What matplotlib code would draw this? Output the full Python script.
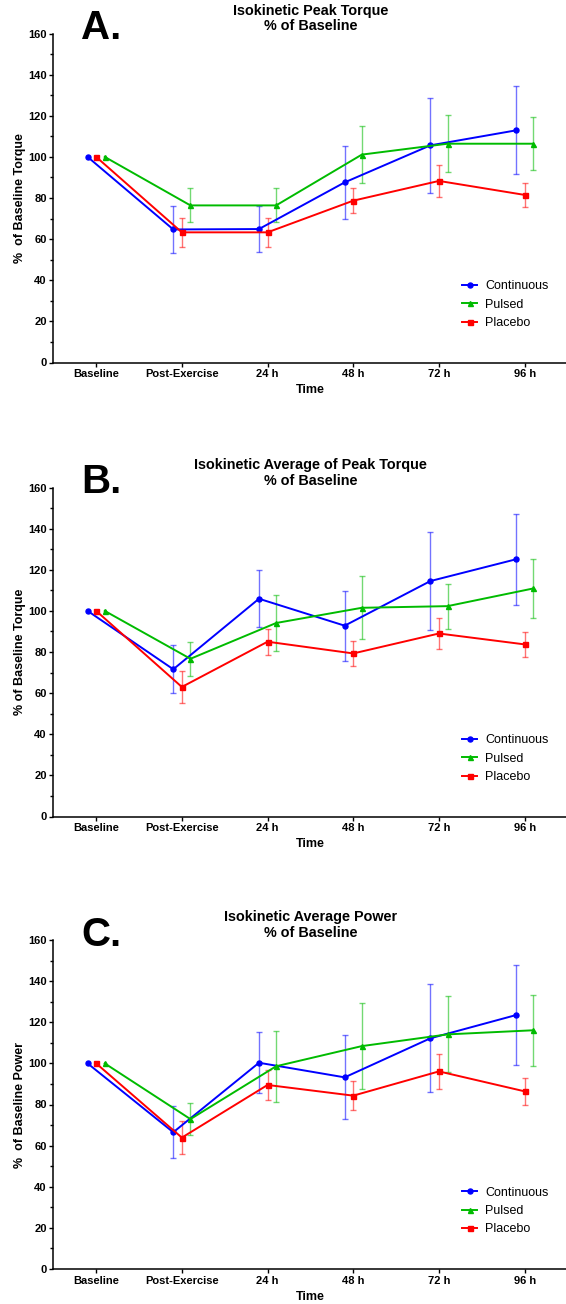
import numpy as np
import matplotlib
matplotlib.use('Agg')
import matplotlib.pyplot as plt
from matplotlib.ticker import MultipleLocator

plt.rcParams['font.family'] = ['Liberation Sans', 'DejaVu Sans']

# === Данные ===
categories = ['Baseline', 'Post-Exercise', '24 h', '48 h', '72 h', '96 h']
groups = ['Continuous', 'Pulsed', 'Placebo']

# A. Isokinetic Peak Torque
cont_a = [100, 64.7, 64.9, 87.6, 105.6, 112.9]
cont_a_err = [0, 11.4, 11.4, 17.7, 23.0, 21.4]
puls_a = [100, 76.4, 76.4, 101.1, 106.4, 106.4]
puls_a_err = [0, 8.3, 8.3, 14.0, 13.8, 12.9]
plac_a = [100, 63.3, 63.3, 78.7, 88.3, 81.5]
plac_a_err = [0, 7.2, 7.2, 6.2, 7.8, 5.7]

# B. Isokinetic Average of Peak Torque
cont_b = [100, 71.6, 105.9, 92.8, 114.5, 125.1]
cont_b_err = [0, 11.6, 13.8, 17.0, 23.8, 22.1]
puls_b = [100, 76.7, 94.1, 101.5, 102.3, 110.9]
puls_b_err = [0, 8.4, 13.6, 15.3, 11.0, 14.4]
plac_b = [100, 63.0, 85.0, 79.3, 89.0, 83.7]
plac_b_err = [0, 7.6, 6.3, 6.2, 7.5, 5.9]

# C. Isokinetic Average Power
cont_c = [100, 66.5, 100.3, 93.2, 112.2, 123.5]
cont_c_err = [0, 12.7, 14.8, 20.4, 26.3, 24.1]
puls_c = [100, 72.9, 98.6, 108.4, 114.1, 116.1]
puls_c_err = [0, 7.9, 17.3, 21.0, 18.5, 17.2]
plac_c = [100, 63.9, 89.5, 84.3, 96.1, 86.4]
plac_c_err = [0, 8.1, 7.1, 6.9, 8.4, 6.5]

# буква, заголовок, подпись оси Y, ряды, верх осей (px), отступ заголовка
panels = [
    ('A.', 'Isokinetic Peak Torque\n% of Baseline', '%  of Baseline Torque',
     [(cont_a, cont_a_err), (puls_a, puls_a_err), (plac_a, plac_a_err)], 33.5, 0.0),
    ('B.', 'Isokinetic Average of Peak Torque\n% of Baseline', '% of Baseline Torque',
     [(cont_b, cont_b_err), (puls_b, puls_b_err), (plac_b, plac_b_err)], 487.5, 1.8),
    ('C.', 'Isokinetic Average Power\n% of Baseline', '%  of Baseline Power',
     [(cont_c, cont_c_err), (puls_c, puls_c_err), (plac_c, plac_c_err)], 940.0, 0.3),
]

colors = ['#0000FF', '#00BB00', '#FF0000']
markers = ['o', '^', 's']
offsets = [-0.1, 0.1, 0.0]

W, H = 566, 1304
fig = plt.figure(figsize=(W / 100, H / 100), dpi=100)

ax_left, ax_w, ax_h = 53.3, 514.2, 329.0
x = np.arange(len(categories))

for letter, title, ylabel, series, top, tpad in panels:
    ax = fig.add_axes([ax_left / W, (H - top - ax_h) / H, ax_w / W, ax_h / H])

    for (vals, errs), name, c, m, off in zip(series, groups, colors, markers, offsets):
        xs = x + off
        ax.errorbar(xs[1:], vals[1:], yerr=errs[1:], fmt='none', ecolor=c,
                    alpha=0.55, elinewidth=1.0, capsize=2.2, capthick=1.0, zorder=2)
        ax.plot(xs, vals, color=c, marker=m, markersize=3.6, linewidth=1.4,
                label=name, zorder=3)

    ax.set_xlim(-0.5, 5.5)
    ax.set_ylim(0, 160)
    ax.set_xticks(x)
    ax.set_xticklabels(categories, fontsize=8, fontweight='bold')
    ax.yaxis.set_major_locator(MultipleLocator(20))
    ax.yaxis.set_minor_locator(MultipleLocator(10))
    for lbl in ax.get_yticklabels():
        lbl.set_fontsize(8)
        lbl.set_fontweight('bold')
    ax.tick_params(axis='both', which='major', length=3.2, width=1.0, pad=1.5)
    ax.tick_params(axis='y', which='minor', length=2.2, width=1.0)

    for s in ['top', 'right']:
        ax.spines[s].set_visible(False)
    for s in ['left', 'bottom']:
        ax.spines[s].set_linewidth(1.1)

    ax.set_ylabel(ylabel, fontsize=9, fontweight='bold', va='center')
    ax.yaxis.set_label_coords(-33.3 / ax_w, 0.5)
    ax.set_xlabel('Time', fontsize=9, fontweight='bold', va='center')
    ax.xaxis.set_label_coords(0.5, -27.7 / ax_h)

    ax.set_title(title, fontsize=10.4, fontweight='bold', pad=tpad, linespacing=1.15)

    fig.text(81 / W, (H - top - 5.5) / H, letter, fontsize=29, fontweight='bold',
             ha='left', va='baseline')

    ax.legend(loc='upper left', bbox_to_anchor=(408.5 / ax_w, 1 - (280 - 33.5) / ax_h),
              frameon=False, fontsize=9, handlelength=1.25, handletextpad=0.6,
              labelspacing=0.52, borderaxespad=0, borderpad=0)

fig.savefig('out.png', dpi=100)
